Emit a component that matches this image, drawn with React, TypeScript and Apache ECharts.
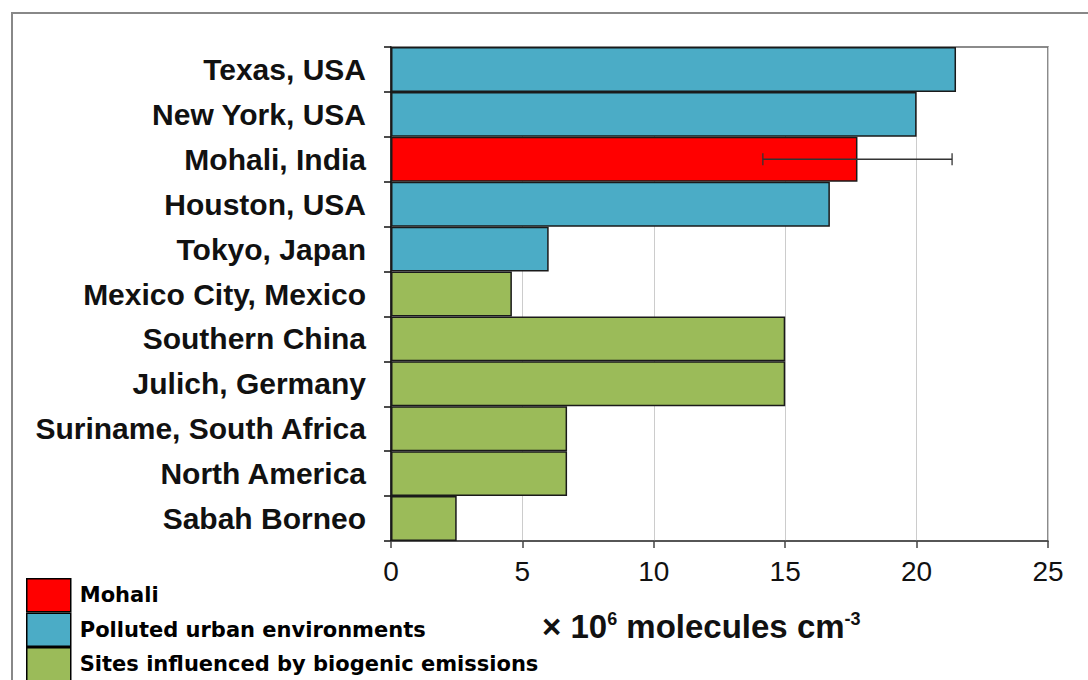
import React, { useEffect, useRef } from "react";
import * as echarts from "echarts";

const categories = [
  "Texas, USA",
  "New York, USA",
  "Mohali, India",
  "Houston, USA",
  "Tokyo, Japan",
  "Mexico City, Mexico",
  "Southern China",
  "Julich, Germany",
  "Suriname, South Africa",
  "North America",
  "Sabah Borneo",
];
const mohaliValues = ["-", "-", 17.75, "-", "-", "-", "-", "-", "-", "-", "-"];
const urbanValues = [21.5, 20.0, "-", 16.7, 6.0, "-", "-", "-", "-", "-", "-"];
const biogenicValues = ["-", "-", "-", "-", "-", 4.6, 15.0, 15.0, 6.7, 6.7, 2.5];
const mohaliErrorLow = 14.15;
const mohaliErrorHigh = 21.35;
const xTicks = [0, 5, 10, 15, 20, 25];
const legendNames = ["Mohali", "Polluted urban environments", "Sites influenced by biogenic emissions"];
const titleParts = ["× 10", "6", " molecules cm", "-3"];

const FONT = "'Liberation Sans', Arial, sans-serif";
const LEGEND_FONT = "'DejaVu Sans', sans-serif";

export default function App() {
  const ref = useRef<HTMLDivElement>(null);
  useEffect(() => {
    const chart = echarts.init(ref.current!, null, { renderer: "svg" });
    const border = { borderColor: "#1a1a1a", borderWidth: 1.5 };

    // axis title pieces, laid out with Arial/Liberation Sans Bold advance widths
    const mainSize = 33;
    const supSize = 18;
    const x0 = 542;
    const w1 = 1.974 * mainSize;
    const w2 = 0.556 * supSize;
    const w3 = 6.892 * mainSize;
    const mainY = 626.6;
    const supY = 618.5;
    const titleStyle = (size: number) => ({
      fontFamily: FONT,
      fontSize: size,
      fontWeight: "bold",
      fill: "#111111",
      verticalAlign: "middle",
      align: "left",
    });

    const option: any = {
      animation: false,
      backgroundColor: "#ffffff",
      grid: {
        left: 391,
        top: 47,
        right: 40,
        bottom: 139,
        show: true,
        borderColor: "#666666",
        borderWidth: 1.5,
        backgroundColor: "transparent",
      },
      xAxis: {
        type: "value",
        min: xTicks[0],
        max: xTicks[xTicks.length - 1],
        interval: 5,
        axisLine: { show: true, lineStyle: { color: "#444444", width: 1.5 } },
        axisTick: { show: true, inside: false, length: 7, lineStyle: { color: "#444444", width: 1.5 } },
        axisLabel: { margin: 16, fontFamily: FONT, fontSize: 28, color: "#111111" },
        splitLine: { show: true, lineStyle: { color: "#cccccc", width: 1 } },
      },
      yAxis: {
        type: "category",
        data: categories,
        inverse: true,
        axisLine: { show: true, lineStyle: { color: "#111111", width: 1.5 } },
        axisTick: { show: true, inside: false, length: 7, alignWithLabel: false, lineStyle: { color: "#111111", width: 1.5 } },
        axisLabel: { margin: 25, fontFamily: FONT, fontSize: 30, fontWeight: "bold", color: "#111111" },
        splitLine: { show: false },
      },
      legend: {
        orient: "vertical",
        left: 26,
        top: 578,
        height: 300,
        padding: 0,
        itemWidth: 44,
        itemHeight: 33,
        itemGap: 0,
        icon: "rect",
        data: legendNames,
        itemStyle: { borderColor: "#000000", borderWidth: 1.5 },
        textStyle: { fontFamily: LEGEND_FONT, fontSize: 21, fontWeight: "bold", color: "#000000", padding: [0, 0, 0, 4] },
        selectedMode: false,
      },
      graphic: [
        {
          type: "rect",
          shape: { x: 12, y: 13, width: 1100, height: 700 },
          style: { fill: "none", stroke: "#888888", lineWidth: 2 },
          silent: true,
        },
        { type: "text", x: x0, y: mainY, style: { text: titleParts[0], ...titleStyle(mainSize) } },
        { type: "text", x: x0 + w1, y: supY, style: { text: titleParts[1], ...titleStyle(supSize) } },
        { type: "text", x: x0 + w1 + w2, y: mainY, style: { text: titleParts[2], ...titleStyle(mainSize) } },
        { type: "text", x: x0 + w1 + w2 + w3, y: supY, style: { text: titleParts[3], ...titleStyle(supSize) } },
      ],
      series: [
        {
          name: legendNames[0],
          type: "bar",
          stack: "all",
          barCategoryGap: "0%",
          data: mohaliValues,
          itemStyle: { color: "#ff0000", ...border },
        },
        {
          name: legendNames[1],
          type: "bar",
          stack: "all",
          barCategoryGap: "0%",
          data: urbanValues,
          itemStyle: { color: "#4bacc6", ...border },
        },
        {
          name: legendNames[2],
          type: "bar",
          stack: "all",
          barCategoryGap: "0%",
          data: biogenicValues,
          itemStyle: { color: "#9bbb59", ...border },
        },
        {
          name: "error",
          type: "custom",
          data: [[mohaliErrorLow, mohaliErrorHigh, categories.indexOf("Mohali, India")]],
          encode: { x: [0, 1], y: 2 },
          z: 10,
          renderItem: (params: any, api: any) => {
            const lo = api.coord([api.value(0), api.value(2)]);
            const hi = api.coord([api.value(1), api.value(2)]);
            const cap = 6;
            const style = { stroke: "#333333", lineWidth: 1.3 };
            return {
              type: "group",
              children: [
                { type: "line", shape: { x1: lo[0], y1: lo[1], x2: hi[0], y2: hi[1] }, style },
                { type: "line", shape: { x1: lo[0], y1: lo[1] - cap, x2: lo[0], y2: lo[1] + cap }, style },
                { type: "line", shape: { x1: hi[0], y1: hi[1] - cap, x2: hi[0], y2: hi[1] + cap }, style },
              ],
            };
          },
        },
      ],
    };
    chart.setOption(option);
    return () => chart.dispose();
  }, []);
  return (
    <div
      ref={ref}
      style={{ position: "fixed", left: 0, top: 0, width: 1088, height: 680, background: "#fff" }}
    />
  );
}
